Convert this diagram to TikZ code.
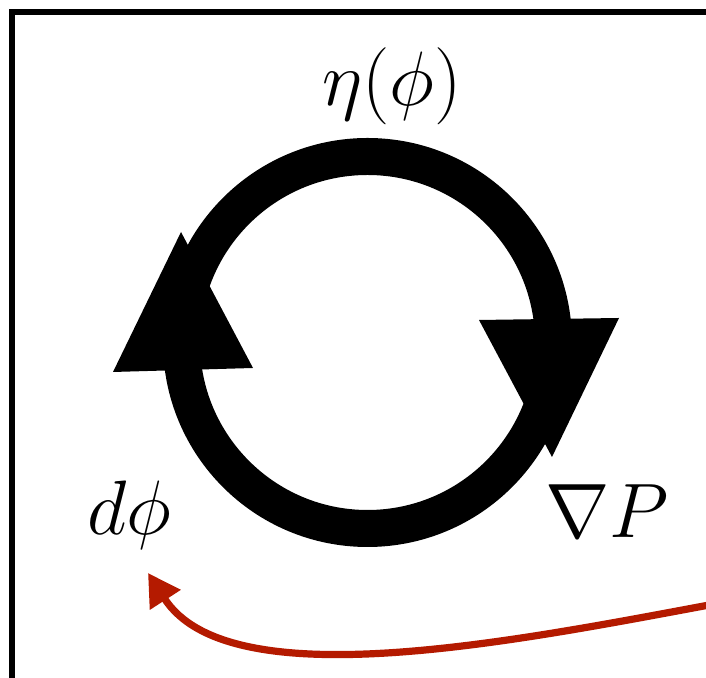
\documentclass[tikz,border=0pt]{standalone}
\usepackage{tikz}
\usetikzlibrary{arrows.meta}
\definecolor{Loop}{HTML}{000000}
\definecolor{Flow}{HTML}{B41A00}
\newcommand{\biglbl}[1]{\scalebox{1.86}{\huge$#1$}}

\begin{document}
\begin{tikzpicture}[x=0.5pt,y=0.5pt,
    lbl/.style={anchor=base,inner sep=0pt},
    head/.style={fill=Loop}]
    \useasboundingbox (0,0) rectangle (706,678);
    \clip (0,0) rectangle (706,678);
    \fill[white] (0,0) rectangle (706,678);

    % frame, cut by the page on the right and at the bottom
    \draw[black,line width=2.6pt] (12,-40) -- (12,666) -- (760,666);

    % loop with its two heads
    \draw[Loop,line width=18.5pt] (367.5,335.5) circle[radius=186];
    \fill[head] (181,446) -- (113,306) -- (253,310) -- cycle;
    \fill[head] (552,221) -- (479,358) -- (619,360) -- cycle;

    \node[lbl] (eta) at (392,572) {\biglbl{\eta(\phi)}};
    \node[lbl] (dphi) at (129,143) {\biglbl{d\phi}};
    \node[lbl] (gradP) at (607,140) {\biglbl{\nabla P}};

    % return flow into d phi
    \coordinate (flowin) at (720,75);
    \coordinate (flowtip) at (148,105);
    \draw[Flow,line width=3.6pt,-{Triangle[length=16pt,width=17.5pt]}]
        (flowin) .. controls (520,38) and (230,-22) .. (flowtip);
\end{tikzpicture}
\end{document}
